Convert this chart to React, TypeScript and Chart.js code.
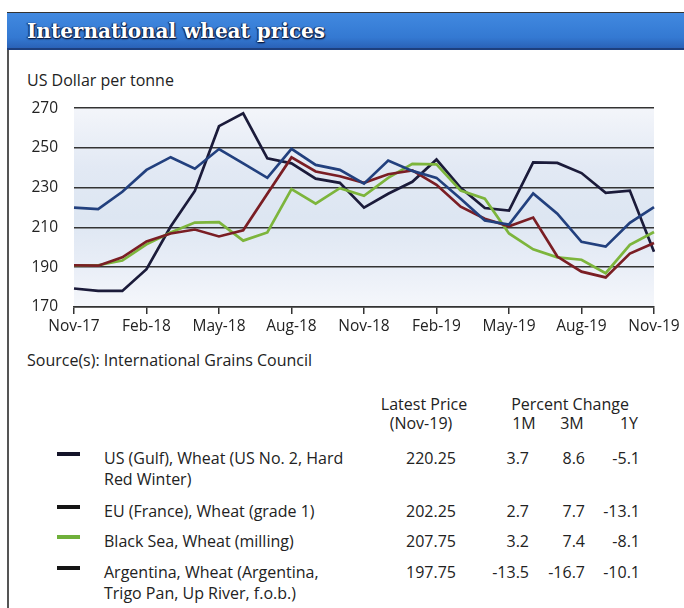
import React, { useEffect, useRef } from 'react';
import { Chart, registerables } from 'chart.js';
Chart.register(...registerables);

const months = ['Nov-17','Dec-17','Jan-18','Feb-18','Mar-18','Apr-18','May-18','Jun-18','Jul-18','Aug-18','Sep-18','Oct-18','Nov-18','Dec-18','Jan-19','Feb-19','Mar-19','Apr-19','May-19','Jun-19','Jul-19','Aug-19','Sep-19','Oct-19','Nov-19'];
const usGulf = [220, 219.3, 228, 239, 245.4, 239.6, 249.5, 242.3, 235, 249.6, 241.5, 239, 232.1, 243.7, 238.5, 235, 224.5, 213.5, 211.5, 227.2, 217, 202.8, 200.4, 212.4, 220.25];
const euFrance = [191, 190.8, 195, 203, 207, 209, 205.5, 208.6, 227, 245.3, 238.2, 235.8, 232.5, 236.8, 238.8, 231.5, 220.5, 214.4, 210.6, 215, 195.4, 187.8, 184.9, 196.9, 202.25];
const blackSea = [191, 191, 193.4, 201.5, 207.5, 212.5, 212.7, 203.4, 207.5, 229.3, 222, 229.8, 226, 235, 242, 241.8, 228.6, 224.5, 207, 199, 195, 193.8, 187, 201.3, 207.75];
const argentina = [179.3, 178.1, 178.1, 189, 210.5, 228.4, 261, 267.5, 244.8, 242.3, 234.6, 232.5, 220, 227, 233, 244.2, 230, 219.8, 218.5, 242.8, 242.5, 237.4, 227.5, 228.6, 197.75];
const yTicks = [170, 190, 210, 230, 250, 270];

const seriesNames = [
  ['US (Gulf), Wheat (US No. 2, Hard', 'Red Winter)'],
  ['EU (France), Wheat (grade 1)'],
  ['Black Sea, Wheat (milling)'],
  ['Argentina, Wheat (Argentina,', 'Trigo Pan, Up River, f.o.b.)'],
];
const latestPrice = ['220.25', '202.25', '207.75', '197.75'];
const change1M = ['3.7', '2.7', '3.2', '-13.5'];
const change3M = ['8.6', '7.7', '7.4', '-16.7'];
const change1Y = ['-5.1', '-13.1', '-8.1', '-10.1'];

const lineColors = ['#22407e', '#7a1e24', '#7db53c', '#1b1b3a'];
const markerColors = ['#15152a', '#151515', '#6fb03a', '#151515'];
const rowTops = [458, 511, 541, 572];

const FONT = "'Open Sans', 'DejaVu Sans', sans-serif";

const bgPlugin = {
  id: 'plotBg',
  beforeDraw(chart: any) {
    const { ctx, chartArea: a } = chart;
    const g = ctx.createLinearGradient(0, a.top, 0, a.bottom);
    g.addColorStop(0, '#f3f5fa');
    g.addColorStop(0.3, '#e2e9f4');
    g.addColorStop(0.55, '#dde6f2');
    g.addColorStop(0.8, '#e9eef7');
    g.addColorStop(1, '#f5f7fb');
    ctx.save();
    ctx.fillStyle = g;
    ctx.fillRect(a.left, a.top, a.right - a.left, a.bottom - a.top);
    ctx.restore();
  },
};

function WheatChart() {
  const ref = useRef<HTMLCanvasElement>(null);
  useEffect(() => {
    if (!ref.current) return;
    const mk = (label: string, data: number[], color: string) => ({
      label, data, borderColor: color, backgroundColor: color, borderWidth: 2.7,
      pointRadius: 0, tension: 0, fill: false,
    });
    const chart = new Chart(ref.current, {
      type: 'line',
      data: {
        labels: months,
        datasets: [
          mk('US (Gulf)', usGulf, lineColors[0]),
          mk('EU (France)', euFrance, lineColors[1]),
          mk('Black Sea', blackSea, lineColors[2]),
          mk('Argentina', argentina, lineColors[3]),
        ],
      },
      options: {
        animation: false,
        responsive: true,
        maintainAspectRatio: false,
        layout: { padding: { left: 0, right: 30, top: 10, bottom: 0 } },
        plugins: { legend: { display: false }, tooltip: { enabled: false } },
        scales: {
          x: {
            type: 'category',
            offset: false,
            grid: { drawOnChartArea: false, drawTicks: true, tickLength: 7, color: '#333', lineWidth: 1.5 },
            border: { display: true, color: '#333', width: 1.6 },
            ticks: {
              autoSkip: false, maxRotation: 0, minRotation: 0, padding: 3, color: '#222',
              font: { size: 15.5, family: FONT },
              callback: (_v: any, i: number) => (i % 3 === 0 ? months[i] : null),
            },
            afterFit: (s: any) => { s.height = 30; },
          },
          y: {
            min: 170, max: 270,
            afterBuildTicks: (s: any) => { s.ticks = yTicks.map((v) => ({ value: v })); },
            grid: { color: '#333', lineWidth: 1.6, drawTicks: false },
            border: { display: false },
            ticks: { padding: 16, color: '#222', font: { size: 15.5, family: FONT } },
            afterFit: (s: any) => { s.width = 74; },
          },
        },
      } as any,
      plugins: [bgPlugin],
    });
    return () => chart.destroy();
  }, []);
  return (
    <div style={{ position: 'absolute', left: 0, top: 83, width: 684, height: 254 }}>
      <canvas ref={ref} />
    </div>
  );
}

const txt = (top: number, left: number, content: React.ReactNode, extra: React.CSSProperties = {}) => (
  <div style={{ position: 'absolute', top: top - 11, left, lineHeight: '22px', fontSize: 16, fontFamily: FONT, color: '#222', whiteSpace: 'nowrap', ...extra }}>
    {content}
  </div>
);

const rtxt = (top: number, right: number, content: React.ReactNode) =>
  txt(top, right - 100, content, { width: 100, textAlign: 'right' });

const ctxt = (top: number, center: number, content: React.ReactNode) =>
  txt(top, center - 80, content, { width: 160, textAlign: 'center' });

export default function App() {
  return (
    <div style={{ position: 'fixed', left: 0, top: 0, width: 684, height: 608, background: '#fff', overflow: 'hidden' }}>
      <div style={{ position: 'absolute', left: 7, top: 12, width: 2, height: 596, background: '#555' }} />
      <div style={{
        position: 'absolute', left: 7, top: 12, width: 677, height: 38,
        background: 'linear-gradient(#4189e0, #3479d2 70%, #2a62b8)', borderTop: '1px solid #333', borderBottom: '2px solid #1d3f7e',
        boxSizing: 'border-box',
      }} />
      <div style={{
        position: 'absolute', left: 27, top: 16, lineHeight: '30px', fontSize: 20, fontWeight: 'bold',
        fontFamily: "'DejaVu Serif', serif", color: '#fff', whiteSpace: 'nowrap',
        textShadow: '1px 1px 1px #0b1a3f, -1px 0 1px #0b1a3f, 0 1px 2px #0b1a3f',
      }}>International wheat prices</div>
      {txt(80, 27, 'US Dollar per tonne')}
      <WheatChart />
      {txt(360, 27, 'Source(s): International Grains Council')}
      {ctxt(404, 424, 'Latest Price')}
      {ctxt(423, 421, '(Nov-19)')}
      {ctxt(404, 570, 'Percent Change')}
      {ctxt(423, 524, '1M')}
      {ctxt(423, 572, '3M')}
      {ctxt(423, 629, '1Y')}
      {seriesNames.map((lines, i) => (
        <React.Fragment key={i}>
          <div style={{ position: 'absolute', left: 57, top: rowTops[i] - 6, width: 23, height: 4, background: markerColors[i] }} />
          {lines.map((l, j) => txt(rowTops[i] + j * 21, 104, l))}
          {rtxt(rowTops[i], 456, latestPrice[i])}
          {rtxt(rowTops[i], 529, change1M[i])}
          {rtxt(rowTops[i], 585, change3M[i])}
          {rtxt(rowTops[i], 640, change1Y[i])}
        </React.Fragment>
      ))}
    </div>
  );
}
